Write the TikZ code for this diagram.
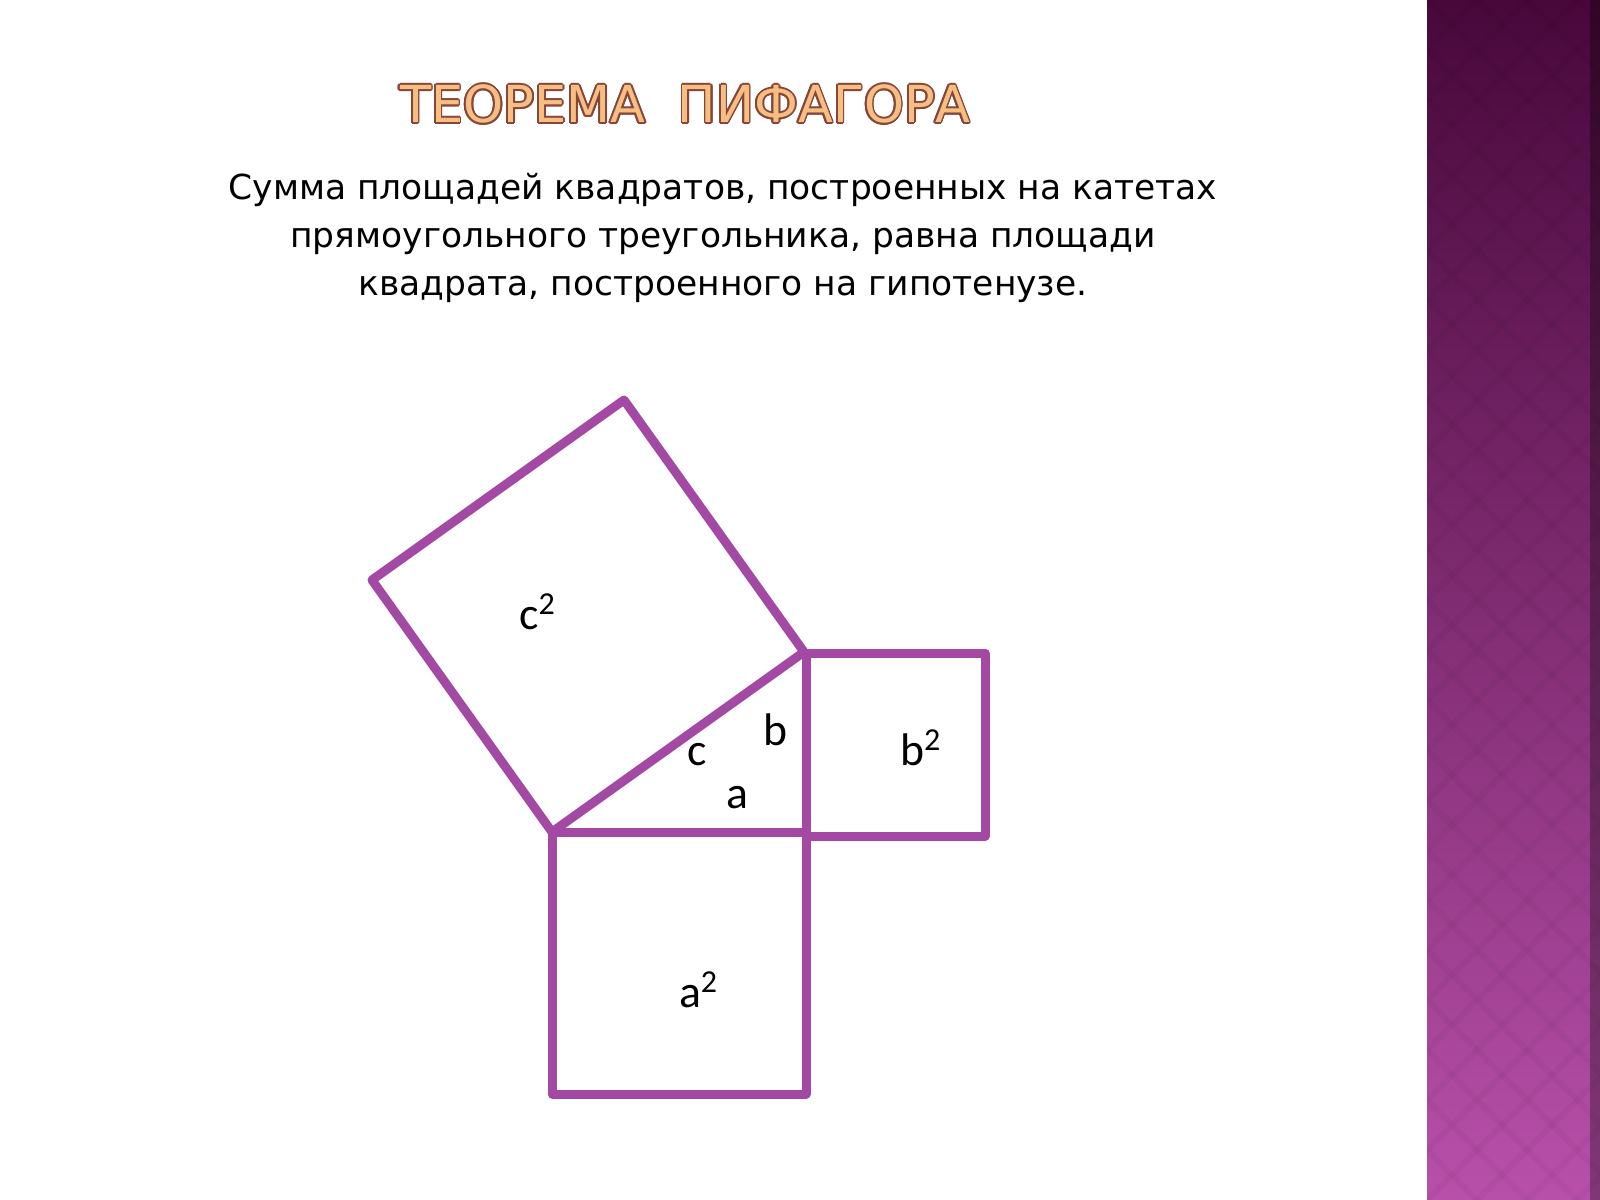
\documentclass[tikz,border=0pt]{standalone}
\usepackage{fontspec}
\setmainfont{DejaVu Sans}
\newfontfamily\labelfont{Carlito}
\usepackage{contour}
\contourlength{0.5pt}
\definecolor{paintpurple}{RGB}{163,73,164}
\definecolor{titlefill}{RGB}{246,190,128}
\definecolor{titleline}{RGB}{135,70,60}
\definecolor{bartop}{RGB}{72,8,58}
\definecolor{barmid}{RGB}{128,48,118}
\definecolor{barbot}{RGB}{184,80,170}

\begin{document}
\begin{tikzpicture}[x=0.01cm,y=-0.01cm,
    side/.style={draw=paintpurple,line width=0.09cm,line join=round},
    lbl/.style={font=\labelfont\fontsize{13}{15}\selectfont}]
  \useasboundingbox (0,0) rectangle (1600,1200);
  \fill[white] (0,0) rectangle (1600,1200);
  \shade[top color=bartop,middle color=barmid,bottom color=barbot] (1427,0) rectangle (1600,1200);
  \begin{scope}
    \clip (1427,0) rectangle (1600,1200);
    \foreach \k in {-200,-150,...,1400}
      {\draw[black,opacity=0.03,line width=0.06cm] (1427,\k) -- ++(200,200);
       \draw[black,opacity=0.03,line width=0.06cm] (1427,\k) -- ++(200,-200);}
  \end{scope}
  \fill[black,opacity=0.3] (1590,0) rectangle (1600,1200);
  \node (title) at (685,105) {\fontsize{14.5}{17}\selectfont\textcolor{titlefill}{\contour{titleline}{ТЕОРЕМА\ \ ПИФАГОРА}}};
  \node[align=center,font=\fontsize{9.8}{13.6}\selectfont] (rule) at (723,238)
    {Сумма площадей квадратов, построенных на катетах\\
     прямоугольного треугольника, равна площади\\
     квадрата, построенного на гипотенузе.};
  \coordinate (A) at (552,832);
  \coordinate (C) at (806,832);
  \coordinate (B) at (804,652);
  \coordinate (P) at (372,580);
  \coordinate (Q) at (624,400);
  \coordinate (bsq) at (985,836);
  \coordinate (asq) at (806,1094);
  \draw[side] (A) -- (B) -- (Q) -- (P) -- cycle;
  \draw[side] (806,653) rectangle (bsq);
  \draw[side] (A) rectangle (asq);
  \node[lbl] (c2) at (538,612) {c\textsuperscript{2}};
  \node[lbl] (b2) at (921,748) {b\textsuperscript{2}};
  \node[lbl] (a2) at (699,990) {a\textsuperscript{2}};
  \node[lbl] (c) at (697,755) {c};
  \node[lbl] (b) at (775,730) {b};
  \node[lbl] (a) at (737,798) {a};
\end{tikzpicture}
\end{document}
